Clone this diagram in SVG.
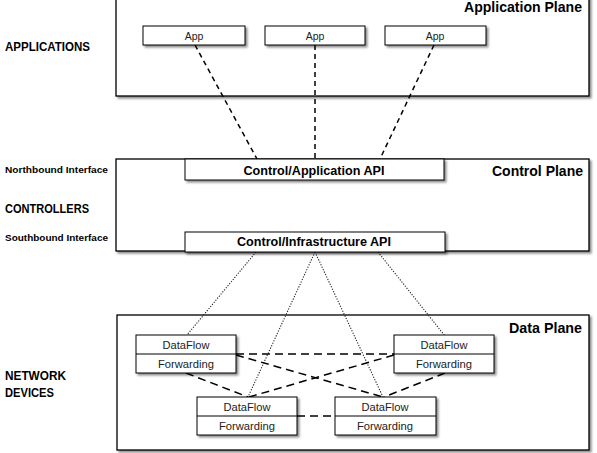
<svg xmlns="http://www.w3.org/2000/svg" width="597" height="453" viewBox="0 0 597 453">
  <defs>
    <filter id="shadow" x="-10%" y="-10%" width="130%" height="140%">
      <feDropShadow dx="2" dy="2" stdDeviation="1" flood-color="#000" flood-opacity="0.45"/>
    </filter>
    <style>
      .plane { fill: #fff; stroke: #000; stroke-width: 1.3; filter: url(#shadow); }
      .box { fill: #fff; stroke: #000; stroke-width: 1; filter: url(#shadow); }
      .sep { stroke: #000; stroke-width: 1; }
      text { font-family: "Liberation Sans", Arial, sans-serif; fill: #000; }
      .title { font-size: 14px; font-weight: bold; text-anchor: end; }
      .side { font-size: 12px; font-weight: bold; }
      .iface { font-size: 9px; font-weight: bold; }
      .api { font-size: 12px; font-weight: bold; text-anchor: middle; }
      .lbl { font-size: 10.5px; text-anchor: middle; fill: #222; }
      .app-link { stroke: #000; stroke-width: 1.5; stroke-dasharray: 5 4; fill: none; }
      .ctl-link { stroke: #222; stroke-width: 1.1; stroke-dasharray: 1.2 1.5; fill: none; }
      .dev-link { stroke: #000; stroke-width: 1.5; stroke-dasharray: 8 5; fill: none; }
    </style>
  </defs>

  <rect width="597" height="453" fill="#fff"/>

  <!-- side labels -->
  <g id="side-labels">
    <text class="side" x="5" y="51" textLength="85" lengthAdjust="spacingAndGlyphs">APPLICATIONS</text>
    <text class="iface" x="5" y="173" textLength="103" lengthAdjust="spacingAndGlyphs">Northbound Interface</text>
    <text class="side" x="5" y="213" textLength="84" lengthAdjust="spacingAndGlyphs">CONTROLLERS</text>
    <text class="iface" x="5" y="241" textLength="103" lengthAdjust="spacingAndGlyphs">Southbound Interface</text>
    <text class="side" x="5" y="380" textLength="61" lengthAdjust="spacingAndGlyphs">NETWORK</text>
    <text class="side" x="5" y="397" textLength="49" lengthAdjust="spacingAndGlyphs">DEVICES</text>
  </g>

  <!-- planes -->
  <g id="application-plane">
    <rect class="plane" x="116" y="-3" width="473" height="99"/>
    <text class="title" x="582" y="12" textLength="118" lengthAdjust="spacingAndGlyphs">Application Plane</text>
  </g>
  <g id="control-plane">
    <rect class="plane" x="116" y="159" width="473" height="92"/>
    <text class="title" x="583" y="176" textLength="91" lengthAdjust="spacingAndGlyphs">Control Plane</text>
  </g>
  <g id="data-plane">
    <rect class="plane" x="117" y="315" width="472" height="135"/>
    <text class="title" x="582" y="333" textLength="73" lengthAdjust="spacingAndGlyphs">Data Plane</text>
  </g>

  <!-- connectors -->
  <g id="connectors">
    <line class="app-link" x1="195" y1="45" x2="257" y2="159"/>
    <line class="app-link" x1="315" y1="45" x2="315" y2="159"/>
    <line class="app-link" x1="434" y1="45" x2="380" y2="159"/>

    <line class="ctl-link" x1="256" y1="252" x2="187" y2="335"/>
    <line class="ctl-link" x1="315" y1="252" x2="248" y2="397"/>
    <line class="ctl-link" x1="315" y1="252" x2="383" y2="397"/>
    <line class="ctl-link" x1="378" y1="252" x2="445" y2="336"/>

    <line class="dev-link" x1="236" y1="354" x2="394" y2="354"/>
    <line class="dev-link" x1="236" y1="355" x2="383" y2="397"/>
    <line class="dev-link" x1="394" y1="355" x2="249" y2="397"/>
    <line class="dev-link" x1="186" y1="373" x2="248" y2="397"/>
    <line class="dev-link" x1="445" y1="373" x2="384" y2="397"/>
    <line class="dev-link" x1="297" y1="416" x2="335" y2="416"/>
  </g>

  <!-- applications -->
  <g id="app-1">
    <rect class="box" x="143" y="26" width="102" height="19"/>
    <text class="lbl" x="194" y="40">App</text>
  </g>
  <g id="app-2">
    <rect class="box" x="265" y="26" width="100" height="19"/>
    <text class="lbl" x="315" y="40">App</text>
  </g>
  <g id="app-3">
    <rect class="box" x="385" y="26" width="101" height="19"/>
    <text class="lbl" x="435" y="40">App</text>
  </g>

  <!-- APIs -->
  <g id="control-application-api">
    <rect class="box" x="185" y="159" width="259" height="21"/>
    <text class="api" x="314" y="175" textLength="141" lengthAdjust="spacingAndGlyphs">Control/Application API</text>
  </g>
  <g id="control-infrastructure-api">
    <rect class="box" x="185" y="232" width="260" height="20"/>
    <text class="api" x="314" y="246" textLength="154" lengthAdjust="spacingAndGlyphs">Control/Infrastructure API</text>
  </g>

  <!-- network devices -->
  <g id="device-1">
    <rect class="box" x="136" y="335" width="100" height="38"/>
    <line class="sep" x1="136" y1="354" x2="236" y2="354"/>
    <text class="lbl" x="186" y="349" textLength="47" lengthAdjust="spacingAndGlyphs">DataFlow</text>
    <text class="lbl" x="186" y="368" textLength="56" lengthAdjust="spacingAndGlyphs">Forwarding</text>
  </g>
  <g id="device-2">
    <rect class="box" x="394" y="335" width="100" height="38"/>
    <line class="sep" x1="394" y1="354" x2="494" y2="354"/>
    <text class="lbl" x="444" y="349" textLength="47" lengthAdjust="spacingAndGlyphs">DataFlow</text>
    <text class="lbl" x="444" y="368" textLength="56" lengthAdjust="spacingAndGlyphs">Forwarding</text>
  </g>
  <g id="device-3">
    <rect class="box" x="197" y="397" width="100" height="38"/>
    <line class="sep" x1="197" y1="416" x2="297" y2="416"/>
    <text class="lbl" x="247" y="411" textLength="47" lengthAdjust="spacingAndGlyphs">DataFlow</text>
    <text class="lbl" x="247" y="430" textLength="56" lengthAdjust="spacingAndGlyphs">Forwarding</text>
  </g>
  <g id="device-4">
    <rect class="box" x="335" y="397" width="101" height="38"/>
    <line class="sep" x1="335" y1="416" x2="436" y2="416"/>
    <text class="lbl" x="385" y="411" textLength="47" lengthAdjust="spacingAndGlyphs">DataFlow</text>
    <text class="lbl" x="385" y="430" textLength="56" lengthAdjust="spacingAndGlyphs">Forwarding</text>
  </g>
</svg>
